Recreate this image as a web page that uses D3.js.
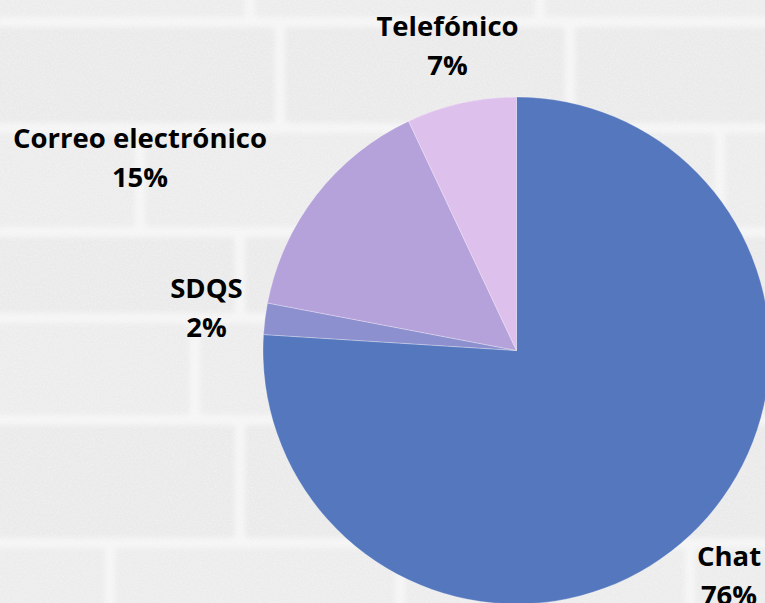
<!DOCTYPE html>
<html>
<head>
<meta charset="utf-8">
<script src="https://cdn.jsdelivr.net/npm/d3@7"></script>
<style>
  html, body { margin: 0; padding: 0; background: #f3f3f3; }
  svg { display: block; }
  .lbl { font-family: "Open Sans", "Noto Sans", sans-serif; font-weight: 700; font-size: 27.5px; fill: #000; }
</style>
</head>
<body>
<svg id="chart" width="765" height="603"></svg>
<script>
// Contact channels and their share of requests
const categories = ["Chat", "SDQS", "Correo electrónico", "Telefónico"];
const shares = [76, 2, 15, 7];
const sliceColors = ["#5477BE", "#8D90CF", "#B6A2DB", "#DDC0EB"];

const width = 765, height = 603;
const svg = d3.select("#chart");

// --- soft, grainy brick wall backdrop ---
const defs = svg.append("defs");
const soft = defs.append("filter").attr("id", "soft");
soft.append("feGaussianBlur").attr("stdDeviation", 2.5);

const grain = defs.append("filter").attr("id", "grain").attr("x", 0).attr("y", 0).attr("width", "100%").attr("height", "100%");
grain.append("feTurbulence").attr("type", "fractalNoise").attr("baseFrequency", 0.6).attr("numOctaves", 2).attr("seed", 7).attr("result", "n");
grain.append("feColorMatrix").attr("in", "n").attr("type", "matrix")
  .attr("values", "0 0 0 0 1  0 0 0 0 1  0 0 0 0 1  1.2 0 0 0 -0.45");

const bg = svg.append("g");
bg.append("rect").attr("width", width).attr("height", height).attr("fill", "#f5f5f5");
const rowEdges = [-90, 22, 128, 232, 318, 420, 543, 650];
const rowOffsets = [40, 10, 150, 50, 95, 50, 180];
const brickW = 290;
const bricks = [];
rowEdges.slice(0, -1).forEach((y0, i) => {
  const y1 = rowEdges[i + 1];
  for (let x = -rowOffsets[i]; x < width; x += brickW) {
    bricks.push({ x: x + 5, y: y0 + 5, w: brickW - 10, h: y1 - y0 - 10, shade: i % 2 ? "#eaeaea" : "#ececec" });
  }
});
bg.append("g").attr("filter", "url(#soft)")
  .selectAll("rect").data(bricks).join("rect")
  .attr("x", d => d.x).attr("y", d => d.y).attr("width", d => d.w).attr("height", d => d.h)
  .attr("rx", 4).attr("fill", d => d.shade);
bg.append("rect").attr("width", width).attr("height", height)
  .attr("filter", "url(#grain)").attr("opacity", 0.5);

// --- pie ---
const cx = 516.5, cy = 350.5, radius = 253.5;
const data = categories.map((c, i) => ({ name: c, value: shares[i], color: sliceColors[i] }));
const pie = d3.pie().value(d => d.value).sort(null);
const arc = d3.arc().innerRadius(0).outerRadius(radius);
const arcs = pie(data);

const g = svg.append("g").attr("transform", `translate(${cx},${cy})`);
g.selectAll("path").data(arcs).join("path")
  .attr("d", arc)
  .attr("fill", d => d.data.color)
  .attr("stroke", "rgba(255,255,255,0.35)")
  .attr("stroke-width", 0.8);

// --- labels: category name on the first line, share on the second ---
const labelPos = {
  "Chat": [729, 566],
  "SDQS": [206.5, 298],
  "Correo electrónico": [140, 148],
  "Telefónico": [447.5, 36]
};
const lineGap = 39;
const labels = svg.append("g");
arcs.forEach(a => {
  const [lx, ly] = labelPos[a.data.name];
  const t = labels.append("text").attr("class", "lbl").attr("text-anchor", "middle");
  t.append("tspan").attr("x", lx).attr("y", ly).text(a.data.name);
  t.append("tspan").attr("x", lx).attr("y", ly + lineGap).text(a.data.value + "%");
});
</script>
</body>
</html>
